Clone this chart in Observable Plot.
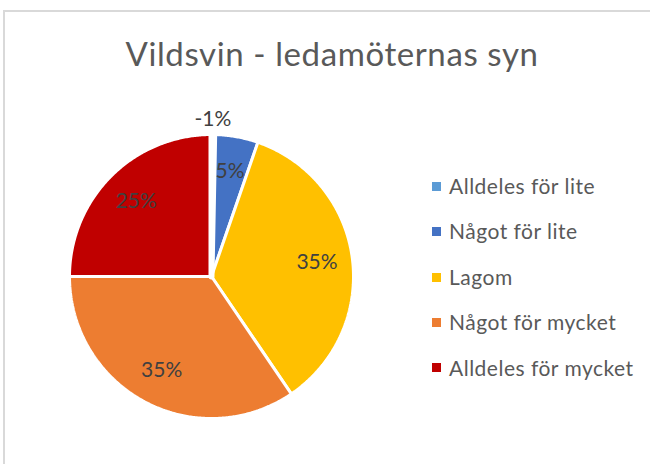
<!DOCTYPE html>
<html>
<head>
<meta charset="utf-8">
<script src="https://cdn.jsdelivr.net/npm/d3@7"></script>
<script src="https://cdn.jsdelivr.net/npm/@observablehq/plot@0.6"></script>
<style>
  html, body { margin: 0; padding: 0; background: #fff; }
  #wrap { position: relative; width: 650px; height: 464px; overflow: hidden; font-family: Lato, "Open Sans", sans-serif; }
  #frame { position: absolute; left: 3px; top: 10px; width: 800px; height: 800px; border: 2px solid #d9d9d9; }
  #chart { position: absolute; left: 0; top: 0; }
  #title { position: absolute; left: 0; width: 664px; text-align: center; color: #595959; font-weight: 400; white-space: nowrap; line-height: normal; letter-spacing: 0.6px; }
  .lg-sq { position: absolute; width: 9px; height: 9px; }
  .lg-tx { position: absolute; color: #595959; white-space: nowrap; line-height: normal; letter-spacing: 0.5px; }
</style>
</head>
<body>
<div id="wrap">
  <div id="frame"></div>
  <div id="chart"></div>
  <div id="title"></div>
</div>
<script>
const titleText = "Vildsvin - ledamöternas syn";
const categories = ["Alldeles för lite", "Något för lite", "Lagom", "Något för mycket", "Alldeles för mycket"];
const values = [-0.3, 5, 35.2, 34.5, 25];
const labels = ["-1%", "5%", "35%", "35%", "25%"];
const colors = ["#5B9BD5", "#4472C4", "#FFC000", "#ED7D31", "#C00000"];

// pie geometry (angles clockwise from 12 o'clock)
const arcs = d3.pie().value(d => Math.abs(d.value)).sort(null)(
  categories.map((c, i) => ({cat: c, value: values[i], color: colors[i], label: labels[i]}))
);
const pts = [];
arcs.forEach(a => {
  const fill = a.data.value < 0 ? "white" : a.data.color;
  const neg = a.data.value < 0;
  pts.push({cat: a.data.cat, x: 0, y: 0, fill, neg});
  const n = Math.max(2, Math.ceil((a.endAngle - a.startAngle) / (Math.PI / 360)));
  for (let k = 0; k <= n; k++) {
    const t = a.startAngle + (a.endAngle - a.startAngle) * k / n;
    pts.push({cat: a.data.cat, x: Math.sin(t), y: Math.cos(t), fill, neg});
  }
  pts.push({cat: a.data.cat, x: 0, y: 0, fill, neg});
});
const cx = 211, cy = 276, R = 142;
const labelPts = arcs.map(a => {
  const m = (a.startAngle + a.endAngle) / 2;
  const r = (a.data.value < 0 ? 1.12 : 0.76) * 140 / R;
  return {x: r * Math.sin(m), y: r * Math.cos(m), text: a.data.label};
});

const plot = Plot.plot({
  width: 650,
  height: 464,
  margin: 0,
  x: {domain: [-1, 1], range: [cx - R, cx + R], axis: null},
  y: {domain: [-1, 1], range: [cy + R, cy - R], axis: null},
  color: {type: "identity"},
  style: {background: "transparent", overflow: "visible"},
  marks: [
    Plot.line(pts.filter(d => !d.neg), {x: "x", y: "y", z: "cat", fill: "fill", stroke: "white", strokeWidth: 3, strokeLinejoin: "miter"}),
    Plot.line(pts.filter(d => d.neg), {x: "x", y: "y", z: "cat", fill: "fill", stroke: "white", strokeWidth: 6, strokeLinejoin: "miter"}),
    Plot.text(labelPts, {x: "x", y: "y", text: "text", fill: "#404040", fontSize: 21, fontFamily: "Lato, 'Open Sans', sans-serif"})
  ]
});
document.getElementById("chart").appendChild(plot);

// title
const tEl = document.getElementById("title");
const tfs = 33;
tEl.textContent = titleText;
tEl.style.fontSize = tfs + "px";
tEl.style.top = (66 - 0.987 * tfs) + "px";

// legend
const wrap = document.getElementById("wrap");
const lfs = 21;
categories.forEach((c, i) => {
  const base = 193.8 + i * 45.4;
  const sq = document.createElement("div");
  sq.className = "lg-sq";
  sq.style.left = "432px";
  sq.style.top = (base - 12) + "px";
  sq.style.background = colors[i];
  wrap.appendChild(sq);
  const tx = document.createElement("div");
  tx.className = "lg-tx";
  tx.style.left = "449px";
  tx.style.fontSize = lfs + "px";
  tx.style.top = (base - 0.987 * lfs) + "px";
  tx.textContent = c;
  wrap.appendChild(tx);
});
</script>
</body>
</html>
